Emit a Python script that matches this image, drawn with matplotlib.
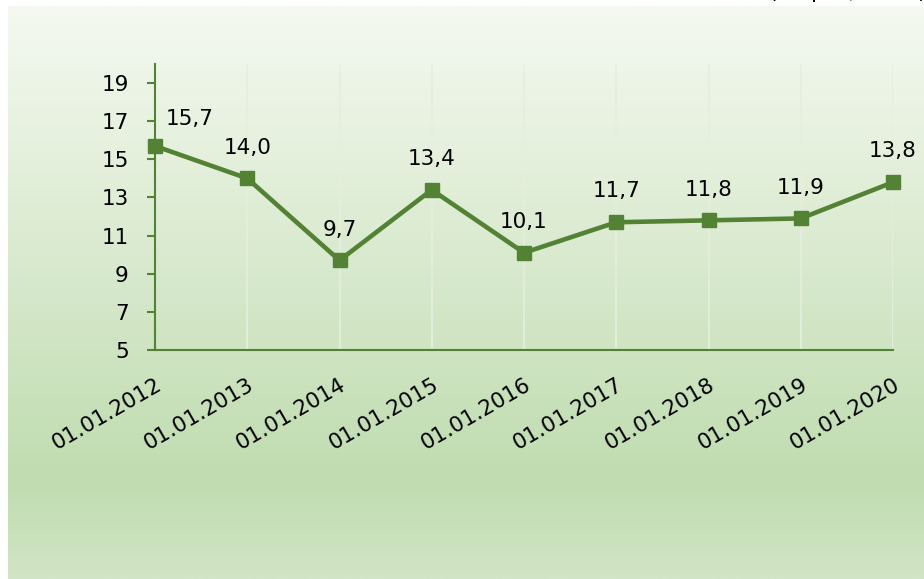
import numpy as np
import matplotlib.pyplot as plt
from matplotlib.colors import LinearSegmentedColormap

# chart data
dates = ['01.01.2012', '01.01.2013', '01.01.2014', '01.01.2015', '01.01.2016',
         '01.01.2017', '01.01.2018', '01.01.2019', '01.01.2020']
values = [15.7, 14.0, 9.7, 13.4, 10.1, 11.7, 11.8, 11.9, 13.8]
labels = ['15,7', '14,0', '9,7', '13,4', '10,1', '11,7', '11,8', '11,9', '13,8']
y_ticks = [5, 7, 9, 11, 13, 15, 17, 19]
unit_note = '(в процентах)'

green = '#548235'

fig = plt.figure(figsize=(9.24, 5.79), dpi=100)

# gradient background panel
bg = fig.add_axes([8 / 924, 0, 1 - 8 / 924, 1 - 6 / 579], zorder=0)
cmap = LinearSegmentedColormap.from_list('bg', [
    (0.0, '#f5f9f1'),
    (0.55, '#d2e6c6'),
    (0.83, '#c0dcb0'),
    (1.0, '#d2e5c6'),
])
bg.imshow(np.linspace(0, 1, 256).reshape(-1, 1), aspect='auto', cmap=cmap,
          extent=[0, 1, 0, 1], origin='upper')
bg.set_axis_off()

ax = fig.add_axes([155 / 924, 1 - 350 / 579, (893 - 155) / 924, (350 - 64) / 579], zorder=1)
ax.set_facecolor('none')

x = np.arange(len(dates))
for xi in x[1:]:
    ax.axvline(xi, color='#e4efdc', lw=1.2, zorder=1)

ax.plot(x, values, color=green, lw=3.3, marker='s', markersize=10, zorder=3,
        clip_on=False)

for i, (xi, v, lab) in enumerate(zip(x, values, labels)):
    if i == 0:
        ax.annotate(lab, (xi, v), xytext=(8, 12), textcoords='offset points',
                    ha='left', va='bottom', fontsize=15.5, color='black')
    else:
        ax.annotate(lab, (xi, v), xytext=(0, 15), textcoords='offset points',
                    ha='center', va='bottom', fontsize=15.5, color='black')

ax.set_xlim(0, len(dates) - 1)
ax.set_ylim(5, 20)
ax.set_yticks(y_ticks)
ax.set_yticklabels([str(t) for t in y_ticks], fontsize=15.5)
ax.set_xticks(x)
ax.set_xticklabels(dates, fontsize=15.5, rotation=30, ha='right', va='top',
                   rotation_mode='anchor')

ax.tick_params(axis='y', length=6, width=1.5, color=green, pad=13)
ax.tick_params(axis='x', length=0, pad=18)

for s in ['top', 'right']:
    ax.spines[s].set_visible(False)
for s in ['left', 'bottom']:
    ax.spines[s].set_color(green)
    ax.spines[s].set_linewidth(1.5)

# unit note sits at the top edge, mostly cut off as in the source
fig.text(848 / 924, 1 + 2 / 579, unit_note, ha='center', va='baseline', fontsize=15.5)

fig.savefig('out.png', dpi=100)
